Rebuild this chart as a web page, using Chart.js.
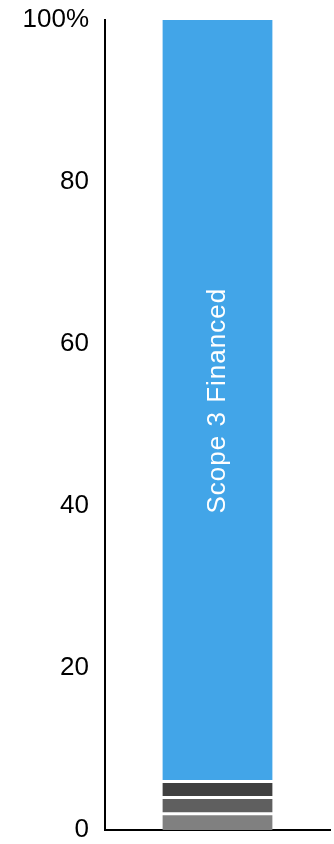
<!DOCTYPE html>
<html>
<head>
<meta charset="utf-8">
<script src="https://cdn.jsdelivr.net/npm/chart.js@4"></script>
<style>
  html, body { margin: 0; padding: 0; background: #fff; }
  #wrap { width: 334px; height: 844px; }
</style>
</head>
<body>
<div id="wrap"><canvas id="chart"></canvas></div>
<script>
const categories = [''];
const seriesNames = ['Scope 1', 'Scope 2', 'Scope 3 Other', 'Scope 3 Financed'];
const seriesValues = [[2], [2], [2], [94]];
const seriesColors = ['#808080', '#5f5f5f', '#404040', '#42a5e8'];
const yTicks = [0, 20, 40, 60, 80, 100];

const FONT = 'Liberation Sans, Arial, sans-serif';

// vertical label inside the big segment
const segmentLabel = {
    id: 'segmentLabel',
    afterDatasetsDraw(chart) {
        const meta = chart.getDatasetMeta(3);
        const bar = meta.data[0];
        const ctx = chart.ctx;
        ctx.save();
        ctx.translate(bar.x, (bar.y + bar.base) / 2);
        ctx.rotate(-Math.PI / 2);
        ctx.fillStyle = '#fff';
        ctx.font = '26px ' + FONT;
        ctx.letterSpacing = '1px';
        ctx.textAlign = 'center';
        ctx.textBaseline = 'middle';
        ctx.fillText(seriesNames[3], 0, 0);
        ctx.restore();
    },
};

const last = seriesNames.length - 1;

new Chart(document.getElementById('chart').getContext('2d'), {
    type: 'bar',
    data: {
        labels: categories,
        datasets: seriesNames.map((name, i) => ({
            label: name,
            data: seriesValues[i],
            backgroundColor: seriesColors[i],
            borderColor: '#fff',
            borderWidth: {
                top: i === last ? 0 : 1.5,
                bottom: i === 0 ? 0 : 1.5,
                left: 0,
                right: 0,
            },
            borderSkipped: false,
            categoryPercentage: 0.7,
            barPercentage: 0.7,
        })),
    },
    plugins: [segmentLabel],
    options: {
        responsive: true,
        maintainAspectRatio: false,
        animation: false,
        layout: { padding: { top: 20, right: 4, bottom: 0, left: 0 } },
        scales: {
            x: {
                stacked: true,
                grid: { display: false },
                border: { display: true, color: '#000', width: 2 },
                ticks: { display: false },
                afterFit: (axis) => { axis.height = 14; },
            },
            y: {
                stacked: true,
                min: 0,
                max: 100,
                afterBuildTicks: (axis) => { axis.ticks = yTicks.map(v => ({ value: v })); },
                grid: { display: false },
                border: { display: true, color: '#000', width: 2 },
                ticks: {
                    color: '#000',
                    padding: 8,
                    font: { size: 26, family: FONT, lineHeight: 1 },
                    callback: (v) => v === 100 ? '100%' : v,
                },
                afterFit: (axis) => {
                    axis.width = 105;
                    axis.paddingTop = 0;
                    axis.paddingBottom = 0;
                },
            },
        },
        plugins: {
            legend: { display: false },
            tooltip: { enabled: false },
        },
    },
});
</script>
</body>
</html>
